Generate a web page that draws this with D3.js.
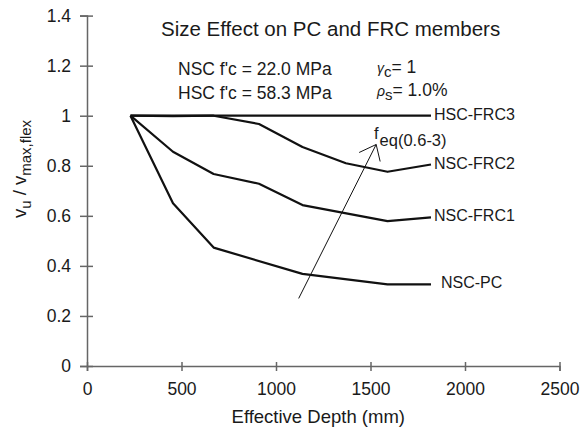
<!DOCTYPE html>
<html lang="en">
<head>
  <meta charset="UTF-8">
  <script src="https://d3js.org/d3.v7.min.js"></script>
  <title>Size Effect</title>
  <style>
    body { margin: 0; background: #fff; }
    text { font-family: "Liberation Sans", Arial, Helvetica, sans-serif; fill: #1a1a1a; }
  </style>
</head>
<body>
<div id="chart"></div>
<script>

// effective depth (mm) of the tested members
var depths = [230, 455, 670, 910, 1140, 1370, 1590, 1820];

// normalised shear strength, null where a series has no point
var hscFrc3 = [1, 0.998, 1, 1, 1, 1, 1, 1];
var nscFrc2 = [1, 1, 1, 0.967, 0.875, 0.81, 0.776, 0.805];
var nscFrc1 = [1, 0.856, 0.767, 0.728, 0.643, null, 0.579, 0.594];
var nscPc   = [1, 0.65, 0.473, null, 0.368, null, 0.326, 0.326];

var seriesNames = ["HSC-FRC3", "NSC-FRC2", "NSC-FRC1", "NSC-PC"];
var seriesValues = [hscFrc3, nscFrc2, nscFrc1, nscPc];

var xTicks = [0, 500, 1000, 1500, 2000, 2500];
var yTicks = [0, 0.2, 0.4, 0.6, 0.8, 1, 1.2, 1.4];

var width = 587, height = 432;

var svg = d3.select("#chart")
  .append("svg")
    .attr("width", width)
    .attr("height", height);

var x = d3.scaleLinear().domain([0, 2500]).range([87, 559.5]);
var y = d3.scaleLinear().domain([0, 1.4]).range([366, 15.6]);

// axes, ticks cross the axis line
var xAxis = svg.append("g")
  .attr("transform", "translate(0," + y(0) + ")")
  .call(d3.axisBottom(x).tickValues(xTicks).tickSizeOuter(0).tickSize(5).tickPadding(12).tickFormat(d3.format("d")));
xAxis.selectAll(".tick line").attr("y1", -4).attr("y2", 5);

var yAxis = svg.append("g")
  .attr("transform", "translate(" + x(0) + ",0)")
  .call(d3.axisLeft(y).tickValues(yTicks).tickSizeOuter(0).tickSize(7).tickPadding(9)
    .tickFormat(function(d) { return +d.toFixed(1); }));
yAxis.selectAll(".tick line").attr("x1", 6).attr("x2", -7);

svg.selectAll(".domain, .tick line")
  .attr("stroke", "#666")
  .attr("stroke-width", 1.5);
svg.selectAll(".tick text")
  .style("font-size", "17.5px")
  .style("fill", "#1a1a1a");

// series lines
var line = d3.line()
  .defined(function(d) { return d[1] != null; })
  .x(function(d) { return x(d[0]); })
  .y(function(d) { return y(d[1]); });

seriesValues.forEach(function(vals, i) {
  var pts = depths.map(function(dp, j) { return [dp, vals[j]]; })
    .filter(function(d) { return d[1] != null; });
  svg.append("path")
    .datum(pts)
    .attr("fill", "none")
    .attr("stroke", "#111")
    .attr("stroke-width", 2.2)
    .attr("stroke-linejoin", "round")
    .attr("d", line);

  var last = pts[pts.length - 1];
  svg.append("text")
    .attr("x", x(last[0]) + (seriesNames[i] === "NSC-PC" ? 10 : 3))
    .attr("y", y(last[1]) + 4)
    .style("font-size", "16px")
    .text(seriesNames[i]);
});

// arrow for increasing fibre performance
var arrowFrom = [1120, 0.27], arrowTo = [1530, 0.885];
svg.append("line")
  .attr("x1", x(arrowFrom[0])).attr("y1", y(arrowFrom[1]))
  .attr("x2", x(arrowTo[0])).attr("y2", y(arrowTo[1]))
  .attr("stroke", "#111").attr("stroke-width", 1);
var tx = x(arrowTo[0]), ty = y(arrowTo[1]);
svg.append("path")
  .attr("d", "M" + (tx - 17) + "," + (ty + 8) + "L" + tx + "," + ty + "L" + (tx + 4) + "," + (ty + 17))
  .attr("fill", "none").attr("stroke", "#111").attr("stroke-width", 1);

var feq = svg.append("text").attr("x", 374).attr("y", 139).style("font-size", "16.5px");
feq.append("tspan").text("f");
feq.append("tspan").attr("dy", 7).attr("dx", 1).text("eq(0.6-3)");

// title and notes
svg.append("text")
  .attr("x", 161).attr("y", 36)
  .style("font-size", "20.5px")
  .text("Size Effect on PC and FRC members");

svg.append("text").attr("x", 178).attr("y", 75).style("font-size", "17.5px").text("NSC f'c = 22.0 MPa");
svg.append("text").attr("x", 178).attr("y", 99).style("font-size", "17.5px").text("HSC f'c = 58.3 MPa");

var g1 = svg.append("text").attr("x", 377).attr("y", 73).style("font-size", "17.5px");
g1.append("tspan").style("font-size", "14px").style("font-style", "italic").text("\u03b3");
g1.append("tspan").attr("dy", 4).style("font-size", "15px").text("c");
g1.append("tspan").attr("dy", -4).text("= 1");

var g2 = svg.append("text").attr("x", 377).attr("y", 96).style("font-size", "17.5px");
g2.append("tspan").style("font-size", "14px").style("font-style", "italic").text("\u03c1");
g2.append("tspan").attr("dy", 4).style("font-size", "15px").text("s");
g2.append("tspan").attr("dy", -4).text("= 1.0%");

// axis titles
svg.append("text")
  .attr("x", (x(0) + x(2500)) / 2 - 5).attr("y", 423)
  .attr("text-anchor", "middle")
  .style("font-size", "18.5px")
  .text("Effective Depth (mm)");

var yl = svg.append("text")
  .attr("transform", "translate(26,169) rotate(-90)")
  .attr("text-anchor", "middle")
  .style("font-size", "18.5px");
yl.append("tspan").text("v");
yl.append("tspan").attr("dy", 5).style("font-size", "15px").text("u");
yl.append("tspan").attr("dy", -5).text(" / v");
yl.append("tspan").attr("dy", 5).style("font-size", "15px").text("max,flex");

</script>
</body>
</html>
